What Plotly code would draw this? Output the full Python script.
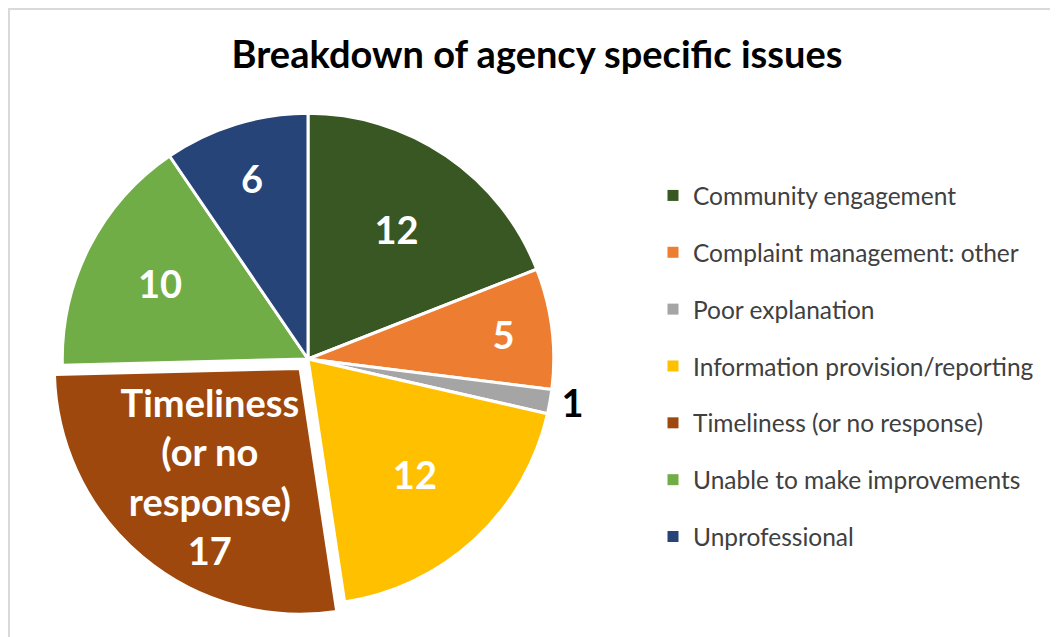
import plotly.graph_objects as go

categories = ["Community engagement", "Complaint management: other", "Poor explanation",
              "Information provision/reporting", "Timeliness (or no response)",
              "Unable to make improvements", "Unprofessional"]
values = [12, 5, 1, 12, 17, 10, 6]
slice_text = ["12", "5", "1", "12", "Timeliness<br>(or no<br>response)<br>17", "10", "6"]
colors = ["#385723", "#ED7D31", "#A5A5A5", "#FFC000", "#9E480E", "#70AD47", "#264478"]
pulls = [0, 0, 0, 0, 0.05, 0, 0]
title_text = "Breakdown of agency specific issues"

FONT = "Lato"
W, H = 1058, 637

fig = go.Figure()
fig.add_trace(go.Pie(
    labels=categories, values=values, text=slice_text,
    textinfo="text", sort=False, direction="clockwise", rotation=0,
    marker=dict(colors=colors, line=dict(color="white", width=3)),
    pull=pulls,
    textposition=["inside", "inside", "outside", "inside", "inside", "inside", "inside"],
    insidetextorientation="horizontal",
    insidetextfont=dict(family=FONT, size=38, color="white", weight="bold"),
    outsidetextfont=dict(family=FONT, size=38, color="black", weight="bold"),
    showlegend=False, hoverinfo="label+value",
    domain=dict(x=[42 / W, 558 / W], y=[28 / H, 544 / H]),
))

for i, (cat, col) in enumerate(zip(categories, colors)):
    fig.add_trace(go.Scatter(
        x=[None], y=[None], mode="markers", name=cat,
        marker=dict(symbol="square", size=11, color=col),
        legendgroup=f"g{i}", showlegend=True,
    ))

fig.update_layout(
    width=W, height=H,
    margin=dict(l=0, r=0, t=0, b=0),
    paper_bgcolor="white", plot_bgcolor="white",
    uniformtext=dict(mode="show", minsize=38),
    title=dict(text=title_text, x=0.5, xanchor="center", y=1 - 47 / H, yanchor="middle",
               font=dict(family=FONT, size=38, color="black", weight="bold")),
    xaxis=dict(visible=False), yaxis=dict(visible=False),
    legend=dict(x=645 / W, xanchor="left", y=1 - 165 / H, yanchor="top",
                font=dict(family=FONT, size=24.5, color="#404040"),
                tracegroupgap=22, bgcolor="rgba(0,0,0,0)", itemwidth=30),
    shapes=[dict(type="rect", xref="paper", yref="paper",
                 x0=1 / W, x1=1.05, y0=-0.05, y1=1 - 1 / H,
                 line=dict(color="#D9D9D9", width=2), fillcolor="rgba(0,0,0,0)", layer="below")],
)

fig.write_html("out.html")
